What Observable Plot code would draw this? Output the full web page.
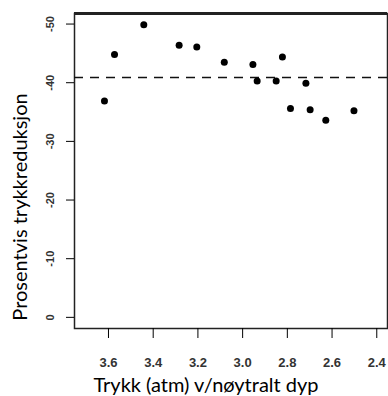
<!DOCTYPE html>
<html><head><meta charset="utf-8">
<script src="https://cdn.jsdelivr.net/npm/d3@7"></script>
<script src="https://cdn.jsdelivr.net/npm/@observablehq/plot@0.6"></script>
<style>body{margin:0;background:#fff} svg{display:block}</style>
</head><body><div id="chart"></div>
<script>
const pressure = [3.618, 3.573, 3.442, 3.284, 3.205, 3.082, 2.954, 2.935, 2.850, 2.822, 2.786, 2.717, 2.698, 2.628, 2.502];
const reduction = [-36.9, -44.8, -49.9, -46.4, -46.1, -43.5, -43.1, -40.3, -40.3, -44.4, -35.6, -39.9, -35.4, -33.6, -35.2];
const meanLine = [-40.9];
const xTicks = [3.6, 3.4, 3.2, 3.0, 2.8, 2.6, 2.4];
const yTicks = [0, -10, -20, -30, -40, -50];
const xDomain = [3.752, 2.352];
const yDomain = [1.9, -51.8];
const xTitle = "Trykk (atm) v/nøytralt dyp";
const yTitle = "Prosentvis trykkreduksjon";
const points = pressure.map((p, i) => ({p, r: reduction[i]}));
const chart = Plot.plot({
  width: 388, height: 396,
  marginLeft: 74, marginTop: 13, marginRight: 1, marginBottom: 68,
  style: {fontFamily: "'Liberation Sans', Arial, sans-serif", background: "#fff"},
  x: {domain: xDomain},
  y: {domain: yDomain},
  marks: [
    Plot.frame({stroke: "#222", strokeWidth: 1.5}),
    Plot.ruleY([yDomain[1]], {stroke: "#222", strokeWidth: 3}),
    Plot.ruleY(meanLine, {stroke: "#111", strokeWidth: 1.5, strokeDasharray: "9,7"}),
    Plot.dot(points, {x: "p", y: "r", r: 3.5, fill: "#000", stroke: "none"}),
    Plot.axisX({ticks: xTicks, tickFormat: d3.format(".1f"), tickSize: 10, tickPadding: 19, fontSize: 13, fontWeight: "bold", fill: "#333", label: null}),
    Plot.axisY({ticks: yTicks, tickFormat: d => String(d), tickSize: 8, tickRotate: -90, tickPadding: 13, fontSize: 11, fontWeight: "bold", fill: "#333", label: null}),
    Plot.text([xTitle], {text: d => d, frameAnchor: "bottom", textAnchor: "middle", lineAnchor: "bottom", dx: -25, dy: 63, fontSize: 20, fontFamily: "Lato", fill: "#000"}),
    Plot.text([yTitle], {text: d => d, frameAnchor: "left", textAnchor: "middle", lineAnchor: "middle", rotate: -90, dx: -54, dy: 36, fontSize: 20, fontFamily: "Lato", fill: "#000"})
  ]
});
document.getElementById("chart").appendChild(chart);
</script>
</body></html>
